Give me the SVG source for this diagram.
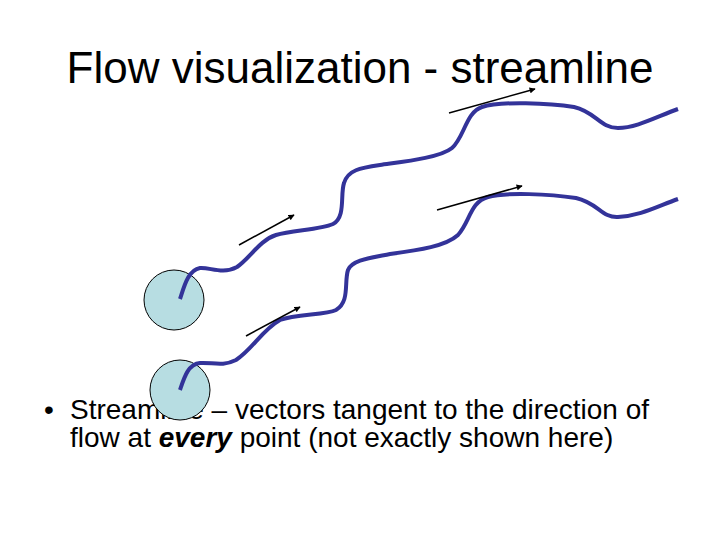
<svg xmlns="http://www.w3.org/2000/svg" width="720" height="540" viewBox="0 0 720 540">
<style>
.title{font-family:"Liberation Sans",Arial,sans-serif;font-size:44px;fill:#000}
.body{font-family:"Liberation Sans",Arial,sans-serif;font-size:28px;fill:#000}
.stream{fill:none;stroke:#333399;stroke-width:4;stroke-linecap:butt;stroke-linejoin:round}
.vec{stroke:#000;stroke-width:1.5;fill:none}
.seed{fill:#b7dde2;stroke:#000;stroke-width:1}
</style>
<defs>
<marker id="ah" viewBox="0 0 10 10" refX="9" refY="5" markerWidth="7" markerHeight="6" markerUnits="userSpaceOnUse" orient="auto">
<path d="M0,0 L10,5 L0,10 z" fill="#000"/>
</marker>
</defs>
<rect width="720" height="540" fill="#fff"/>
<text class="title" x="360" y="83" text-anchor="middle">Flow visualization - streamline</text>
<text class="body" x="44" y="419" font-size="24">•</text>
<text class="body" x="70" y="419">Streamline – vectors tangent to the direction of</text>
<text class="body" x="70" y="447">flow at <tspan font-weight="bold" font-style="italic">every</tspan> point (not exactly shown here)</text>
<g id="seed1"><circle class="seed" cx="174" cy="300" r="30"/></g>
<g id="seed2"><circle class="seed" cx="180" cy="390" r="30"/></g>
<g id="connectors">
<path id="s1" class="stream" d="M180,299 C184,287 188,270 200,268 C210,267 222,275 237,267 C250,258 260,240 276,235 C292,230 320,230 333,224 C346,217 340,195 344,183 C348,170 360,168 380,165 C400,162 440,158 452,148 C464,138 466,112 482,107 C500,101 550,103 574,107 C596,112 600,128 618,128 C636,128 656,117 678,109"/>
<path id="s2" class="stream" d="M180,390 C184,378 188,364 200,363 C212,362 222,367 236,360 C252,350 262,330 280,320 C296,314 326,315 336,310 C350,302 344,282 348,270 C352,260 370,258 390,254 C420,250 446,246 458,235 C470,222 470,202 488,197 C506,192 550,194 576,198 C598,203 602,218 618,217 C640,216 656,207 678,199"/>
<line class="vec" x1="239" y1="245" x2="294" y2="215" marker-end="url(#ah)"/>
<line class="vec" x1="246" y1="336" x2="300" y2="307" marker-end="url(#ah)"/>
<line class="vec" x1="449" y1="113" x2="535" y2="89" marker-end="url(#ah)"/>
<line class="vec" x1="437" y1="210" x2="522" y2="186" marker-end="url(#ah)"/>
</g>
</svg>
